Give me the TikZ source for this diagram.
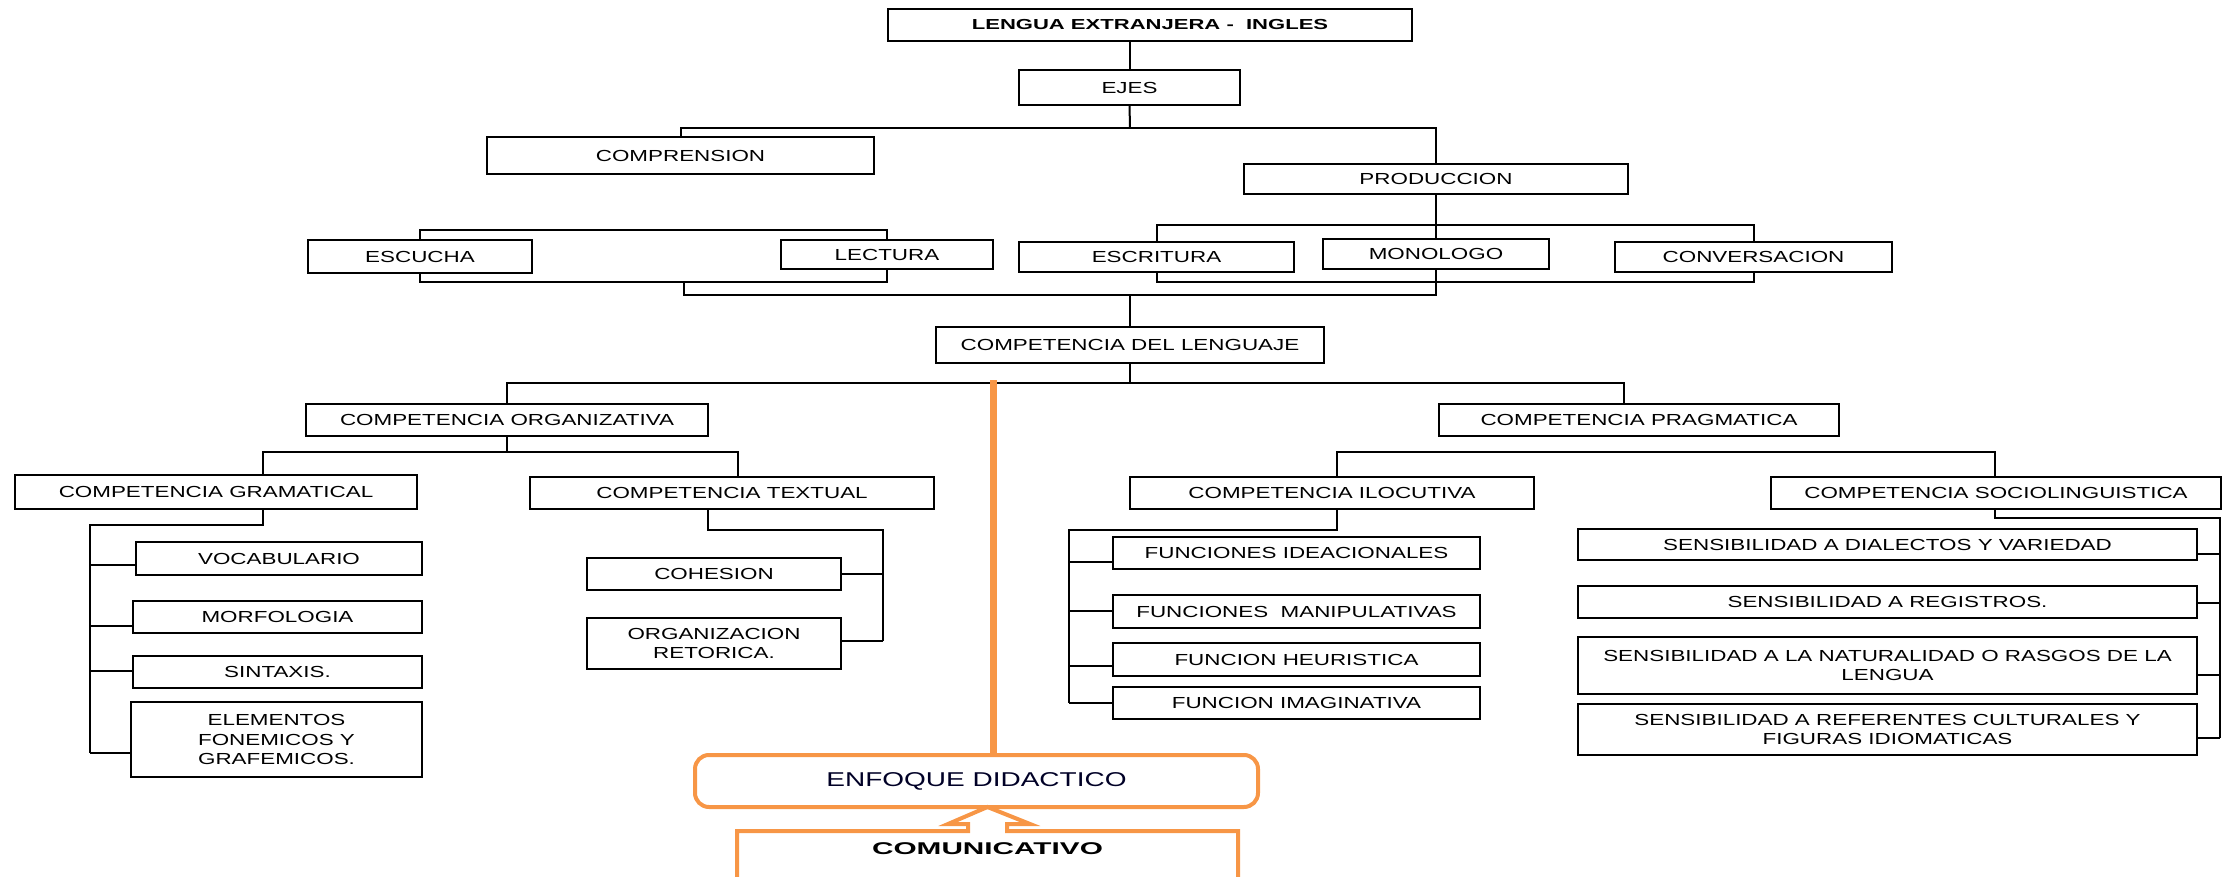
\documentclass[tikz,border=0pt]{standalone}
\usepackage{fontspec}
\setmainfont{Liberation Sans}[FakeStretch=1.4]
\newfontfamily\titlefont{Liberation Sans}[FakeStretch=1.52]
\newfontfamily\comfont{Liberation Sans}[FakeStretch=1.75]
\usetikzlibrary{calc}
\definecolor{orng}{HTML}{F79646}
\newcommand\mybox[6]{\node[box,minimum width=#4pt,minimum height=#5pt] (#1) at (#2,#3) {#6};}
\begin{document}
\begin{tikzpicture}[x=1pt,y=-1pt,
  box/.style={draw=black,line width=2pt,inner sep=0pt,outer sep=0pt,align=center,
              font=\fontsize{16}{19.5}\selectfont},
  conn/.style={draw=black,line width=2pt},
  orngline/.style={draw=orng,line width=7pt},
  orngbox/.style={draw=orng,line width=4pt}]
\path[use as bounding box] (0,0) rectangle (2228,877);

% ---------- boxes ----------
\node[box,minimum width=524pt,minimum height=32pt,
      font=\titlefont\bfseries\fontsize{14.5}{17}\selectfont] (lengua) at (1150,25)
      {LENGUA EXTRANJERA -\ \ INGLES};
\mybox{ejes}{1129.5}{87.5}{221}{35}{EJES}
\mybox{comprension}{680.5}{155.5}{387}{37}{COMPRENSION}
\mybox{produccion}{1436}{179}{384}{30}{PRODUCCION}
\mybox{escucha}{420}{256.5}{224}{33}{ESCUCHA}
\mybox{lectura}{887}{254.5}{212}{29}{LECTURA}
\mybox{escritura}{1156.5}{257}{275}{30}{ESCRITURA}
\mybox{monologo}{1436}{254}{226}{30}{MONOLOGO}
\mybox{conversacion}{1753.5}{257}{277}{30}{CONVERSACION}
\mybox{lenguaje}{1130}{345}{388}{36}{COMPETENCIA DEL LENGUAJE}
\mybox{organizativa}{507}{420}{402}{32}{COMPETENCIA ORGANIZATIVA}
\mybox{pragmatica}{1639}{420}{400}{32}{COMPETENCIA PRAGMATICA}
\mybox{gramatical}{216}{492}{402}{34}{COMPETENCIA GRAMATICAL}
\mybox{textual}{732}{493}{404}{32}{COMPETENCIA TEXTUAL}
\mybox{ilocutiva}{1332}{493}{404}{32}{COMPETENCIA ILOCUTIVA}
\mybox{socio}{1996}{493}{450}{32}{COMPETENCIA SOCIOLINGUISTICA}
\mybox{vocab}{279}{558.5}{286}{33}{VOCABULARIO}
\mybox{morfo}{277.5}{617}{289}{32}{MORFOLOGIA}
\mybox{sintaxis}{277.5}{672}{289}{32}{SINTAXIS.}
\mybox{elementos}{276.5}{739.5}{291}{75}{ELEMENTOS\\FONEMICOS Y\\GRAFEMICOS.}
\mybox{cohesion}{714}{574}{254}{32}{COHESION}
\mybox{organizacion}{714}{643.5}{254}{51}{ORGANIZACION\\RETORICA.}
\mybox{ideac}{1296.5}{553}{367}{32}{FUNCIONES IDEACIONALES}
\mybox{manip}{1296.5}{611.5}{367}{33}{FUNCIONES\ \ MANIPULATIVAS}
\mybox{heur}{1296.5}{659.5}{367}{33}{FUNCION HEURISTICA}
\mybox{imag}{1296.5}{703}{367}{32}{FUNCION IMAGINATIVA}
\mybox{sa}{1887.5}{544.5}{619}{31}{SENSIBILIDAD A DIALECTOS Y VARIEDAD}
\mybox{sb}{1887.5}{602}{619}{32}{SENSIBILIDAD A REGISTROS.}
\mybox{sc}{1887.5}{665.5}{619}{57}{SENSIBILIDAD A LA NATURALIDAD O RASGOS DE LA\\LENGUA}
\mybox{sd}{1887.5}{729.5}{619}{51}{SENSIBILIDAD A REFERENTES CULTURALES Y\\FIGURAS IDIOMATICAS}

% ---------- connectors ----------
\draw[conn] (lengua.south -| ejes.north) -- (ejes.north);
\coordinate (eb) at (1130,128);
\draw[conn] (ejes.south) -- (eb);
\draw[conn] (comprension.north) |- (eb) -| (produccion.north);

\coordinate (elt) at (650,230);
\draw[conn] (escucha.north) |- (elt) -| (lectura.north);
\coordinate (elb) at (684,282);
\draw[conn] (escucha.south) |- (elb) -| (lectura.south);

\coordinate (pt) at (1436,225);
\draw[conn] (produccion.south) -- (monologo.north);
\draw[conn] (escritura.north) |- (pt) -| (conversacion.north);
\coordinate (pb) at (1436,282);
\draw[conn] (escritura.south) |- (pb) -| (conversacion.south);
\draw[conn] (monologo.south) -- (pb);

\coordinate (jl) at (684,295);
\coordinate (jr) at (1436,295);
\draw[conn] (elb) -- (jl) -- (jr) -- (pb);
\draw[conn] (lenguaje.north) -- (lenguaje.north |- jl);

\coordinate (lb) at (1130,383);
\coordinate (lpr) at (1624,383);
\draw[conn] (lenguaje.south) -- (lb);
\draw[conn] (organizativa.north) |- (lb) -- (lpr) -- (lpr |- pragmatica.north);

\coordinate (og) at (263,452);
\coordinate (ot) at (738,452);
\draw[conn] (organizativa.south) -- (organizativa.south |- og);
\draw[conn] (og |- gramatical.north) -- (og) -- (ot) -- (ot |- textual.north);

\coordinate (gt) at (263,525);
\coordinate (gl) at (90,525);
\coordinate (ga) at (90,565);
\coordinate (gb) at (90,626);
\coordinate (gc) at (90,671);
\coordinate (gd) at (90,753);
\draw[conn] (gt |- gramatical.south) -- (gt) -- (gl) -- (gd);
\draw[conn] (ga) -- (ga -| vocab.west);
\draw[conn] (gb) -- (gb -| morfo.west);
\draw[conn] (gc) -- (gc -| sintaxis.west);
\draw[conn] (gd) -- (gd -| elementos.west);

\coordinate (tt) at (708,530);
\coordinate (tr) at (883,530);
\coordinate (ta) at (883,574);
\coordinate (tb) at (883,641);
\draw[conn] (tt |- textual.south) -- (tt) -- (tr) -- (tb);
\draw[conn] (ta) -- (ta -| cohesion.east);
\draw[conn] (tb) -- (tb -| organizacion.east);

\coordinate (pil) at (1337,452);
\coordinate (psr) at (1995,452);
\draw[conn] (pil |- ilocutiva.north) -- (pil) -- (psr) -- (psr |- socio.north);

\coordinate (it) at (1337,530);
\coordinate (il) at (1069,530);
\coordinate (ia) at (1069,562);
\coordinate (ib) at (1069,611);
\coordinate (ic) at (1069,666);
\coordinate (id) at (1069,703);
\draw[conn] (it |- ilocutiva.south) -- (it) -- (il) -- (id);
\draw[conn] (ia) -- (ia -| ideac.west);
\draw[conn] (ib) -- (ib -| manip.west);
\draw[conn] (ic) -- (ic -| heur.west);
\draw[conn] (id) -- (id -| imag.west);

\coordinate (st) at (1995,518);
\coordinate (sr) at (2220,518);
\coordinate (s1) at (2220,554);
\coordinate (s2) at (2220,603);
\coordinate (s3) at (2220,675);
\coordinate (s4) at (2220,738);
\draw[conn] (st |- socio.south) -- (st) -- (sr) -- (s4);
\draw[conn] (s1) -- (s1 -| sa.east);
\draw[conn] (s2) -- (s2 -| sb.east);
\draw[conn] (s3) -- (s3 -| sc.east);
\draw[conn] (s4) -- (s4 -| sd.east);

% ---------- orange part ----------
\node[orngbox,rounded corners=14pt,minimum width=563pt,minimum height=52pt,inner sep=0pt,
      outer sep=0pt,font=\fontsize{20}{24}\selectfont,text=black!85!blue] (enfoque) at (976.5,781)
      {ENFOQUE DIDACTICO};
\coordinate (ol) at (993,380);
\draw[orngline] (ol) -- (ol |- enfoque.north);

\node[inner sep=0pt,outer sep=0pt,minimum width=501pt,minimum height=36pt,
      font=\comfont\bfseries\fontsize{17}{20}\selectfont] (comunicativo) at (987.5,849) {COMUNICATIVO};
\draw[orngbox] ([yshift=-40pt]comunicativo.south west) -- (comunicativo.north west)
  -- ($(comunicativo.north)+(-19.5,0)$) -- ($(comunicativo.north)+(-19.5,-7)$)
  -- ($(comunicativo.north)+(-39.5,-7)$) -- (comunicativo.north |- enfoque.south)
  -- ($(comunicativo.north)+(42.5,-7)$) -- ($(comunicativo.north)+(19.5,-7)$)
  -- ($(comunicativo.north)+(19.5,0)$) -- (comunicativo.north east)
  -- ([yshift=-40pt]comunicativo.south east);
\end{tikzpicture}
\end{document}
